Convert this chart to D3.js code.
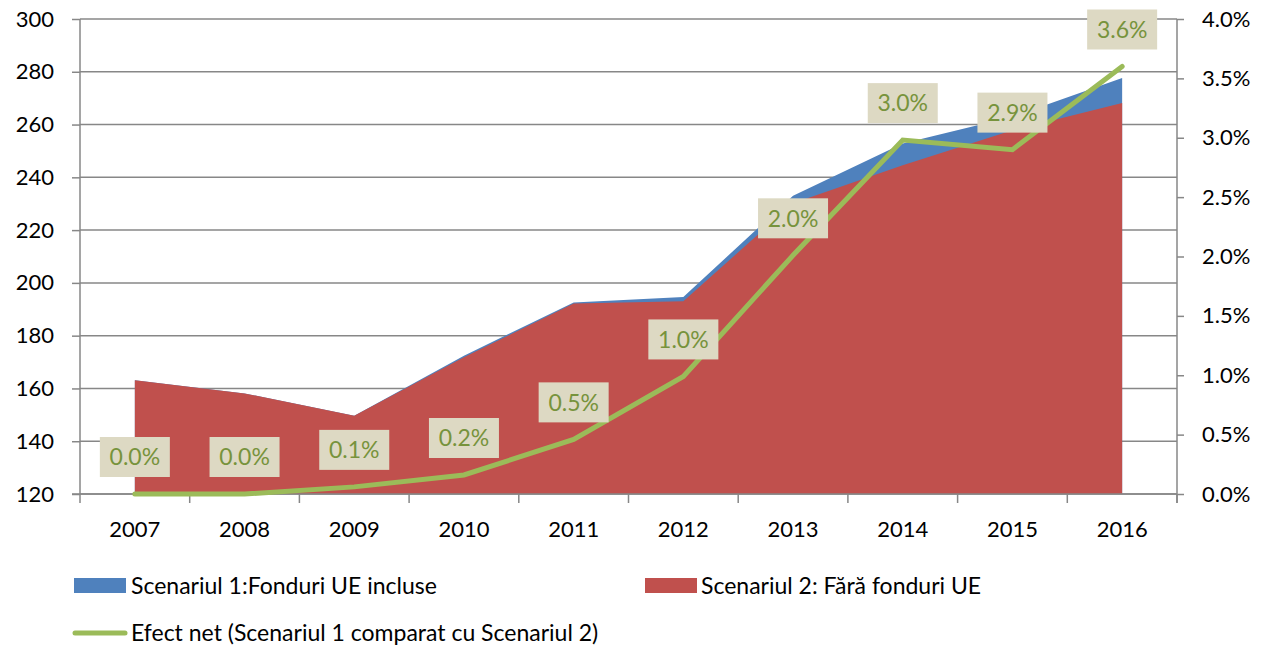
<!DOCTYPE html>
<html>
<head>
<meta charset="utf-8">
<script src="https://cdn.jsdelivr.net/npm/d3@7"></script>
<style>
  body { margin: 0; background: #fff; }
  svg text { font-family: Lato, "Open Sans", sans-serif; }
</style>
</head>
<body>
<div id="chart"></div>
<script>
// data
let years = ["2007", "2008", "2009", "2010", "2011", "2012", "2013", "2014", "2015", "2016"];
let scenariu1 = [163.1, 158.1, 149.7, 172.4, 192.6, 194.7, 233.0, 252.8, 263.0, 277.6];
let scenariu2 = [163.1, 158.1, 149.7, 171.8, 192.2, 193.0, 230.2, 244.6, 257.8, 268.2];
let efectNet = [0.0, 0.0, 0.0006, 0.0016, 0.0046, 0.0099, 0.0201, 0.0298, 0.0290, 0.0360];
let efectLabels = ["0.0%", "0.0%", "0.1%", "0.2%", "0.5%", "1.0%", "2.0%", "3.0%", "2.9%", "3.6%"];
let leftTicks = d3.range(120, 301, 20);
let rightTicks = d3.range(0, 0.0401, 0.005);
let legendNames = ["Scenariul 1:Fonduri UE incluse", "Scenariul 2: Fără fonduri UE", "Efect net (Scenariul 1 comparat cu Scenariul 2)"];

let svgWidth = 1261;
let svgHeight = 647;
let plot = { left: 80, right: 1177, top: 19, bottom: 494 };

let svg = d3.select("#chart")
  .append("svg")
  .attr("width", svgWidth)
  .attr("height", svgHeight);

let x = d3.scaleBand()
  .domain(years)
  .range([plot.left, plot.right])
  .padding(0);
let cx = d => x(d) + x.bandwidth() / 2;

let y = d3.scaleLinear()
  .domain([120, 300])
  .range([plot.bottom, plot.top]);

let y2 = d3.scaleLinear()
  .domain([0, 0.04])
  .range([plot.bottom, plot.top]);

let gridColor = "#878787";

// gridlines
svg.append("g")
  .selectAll("line")
  .data(leftTicks)
  .enter()
  .append("line")
  .attr("x1", plot.left)
  .attr("x2", plot.right)
  .attr("y1", d => y(d))
  .attr("y2", d => y(d))
  .attr("stroke", gridColor)
  .attr("stroke-width", 1.5);

// areas, scenariul 2 drawn over scenariul 1
let area1 = d3.area()
  .x((d, i) => cx(years[i]))
  .y0(y(120))
  .y1(d => y(d));

svg.append("path")
  .datum(scenariu1)
  .attr("d", area1)
  .attr("fill", "#4f81bd");

svg.append("path")
  .datum(scenariu2)
  .attr("d", area1)
  .attr("fill", "#c0504d");

// axes
let leftAxis = d3.axisLeft(y).tickValues(leftTicks).tickSize(8).tickPadding(18);
let rightAxis = d3.axisRight(y2).tickValues(rightTicks).tickSize(7).tickPadding(18).tickFormat(d3.format(".1%"));

let gl = svg.append("g")
  .attr("transform", `translate(${plot.left},0)`)
  .call(leftAxis);

let gr = svg.append("g")
  .attr("transform", `translate(${plot.right},0)`)
  .call(rightAxis);

// x axis: ticks between categories
let gx = svg.append("g");
gx.append("line")
  .attr("x1", plot.left - 8)
  .attr("x2", plot.right)
  .attr("y1", plot.bottom)
  .attr("y2", plot.bottom)
  .attr("stroke", gridColor)
  .attr("stroke-width", 1.5);
gx.selectAll(".xt")
  .data(years.concat(["end"]))
  .enter()
  .append("line")
  .attr("x1", d => d === "end" ? plot.right : x(d))
  .attr("x2", d => d === "end" ? plot.right : x(d))
  .attr("y1", plot.bottom)
  .attr("y2", plot.bottom + 9)
  .attr("stroke", gridColor)
  .attr("stroke-width", 1.5);
gx.selectAll("text")
  .data(years)
  .enter()
  .append("text")
  .attr("x", d => cx(d))
  .attr("y", 537)
  .attr("text-anchor", "middle")
  .attr("font-size", 22)
  .attr("fill", "#000")
  .text(d => d);

[gl, gr].forEach(g => {
  g.select(".domain").attr("stroke", gridColor).attr("stroke-width", 1.5);
  g.selectAll(".tick line").attr("stroke", gridColor).attr("stroke-width", 1.5);
  g.selectAll(".tick text").attr("font-size", 22).attr("fill", "#000").attr("font-family", "Lato, sans-serif");
});
gl.select(".domain").attr("d", `M0,${plot.top}V${plot.bottom}`);
gr.select(".domain").attr("d", `M0,${plot.top}V${plot.bottom + 9}`);

// net effect line
let line = d3.line()
  .x((d, i) => cx(years[i]))
  .y(d => y2(d));

svg.append("path")
  .datum(efectNet)
  .attr("d", line)
  .attr("fill", "none")
  .attr("stroke", "#9bbb59")
  .attr("stroke-width", 5)
  .attr("stroke-linecap", "round")
  .attr("stroke-linejoin", "miter");

// data labels
let labels = svg.append("g")
  .selectAll("g")
  .data(efectNet)
  .enter()
  .append("g")
  .attr("transform", (d, i) => `translate(${cx(years[i])},${y2(d) - 37})`);

labels.append("rect")
  .attr("x", -35)
  .attr("y", -20)
  .attr("width", 70)
  .attr("height", 40)
  .attr("fill", "#ddd9c3");

labels.append("text")
  .attr("text-anchor", "middle")
  .attr("dy", "0.36em")
  .attr("font-size", 23)
  .attr("fill", "#77933c")
  .text((d, i) => efectLabels[i]);

// legend
let legend = svg.append("g");
legend.append("rect").attr("x", 74).attr("y", 578).attr("width", 52).attr("height", 15).attr("fill", "#4f81bd");
legend.append("text").attr("x", 131).attr("y", 586).attr("dy", "0.35em").attr("font-size", 23).text(legendNames[0]);
legend.append("rect").attr("x", 645).attr("y", 578).attr("width", 52).attr("height", 15).attr("fill", "#c0504d");
legend.append("text").attr("x", 701).attr("y", 586).attr("dy", "0.35em").attr("font-size", 23).text(legendNames[1]);
legend.append("line").attr("x1", 75).attr("x2", 125).attr("y1", 633).attr("y2", 633)
  .attr("stroke", "#9bbb59").attr("stroke-width", 5).attr("stroke-linecap", "round");
legend.append("text").attr("x", 131).attr("y", 633).attr("dy", "0.35em").attr("font-size", 23).text(legendNames[2]);
</script>
</body>
</html>
